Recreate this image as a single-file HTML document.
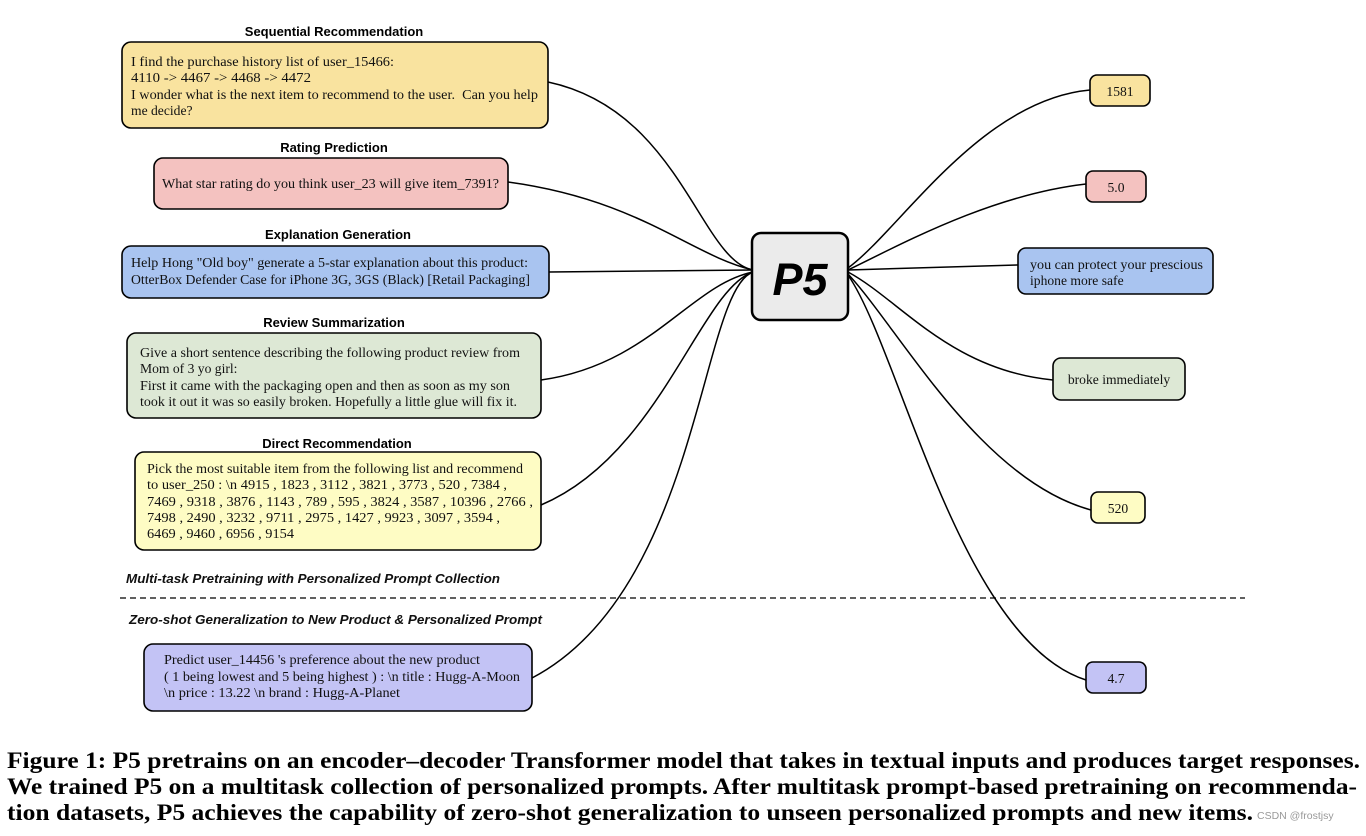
<!DOCTYPE html>
<html><head><meta charset="utf-8"><style>
html,body{margin:0;padding:0;background:#fff;}
svg{display:block;}
.t{font-family:"Liberation Serif",serif;font-size:13.6px;fill:#111;}
.h{font-family:"Liberation Sans",sans-serif;font-size:13px;font-weight:bold;fill:#000;text-anchor:middle;}
.i{font-family:"Liberation Sans",sans-serif;font-size:13px;font-style:italic;font-weight:bold;fill:#111;}
.c{font-family:"Liberation Serif",serif;font-size:23px;font-weight:bold;fill:#000;}
.b{stroke:#000;stroke-width:1.6;}
path{fill:none;stroke:#000;stroke-width:1.5;}
</style></head><body>
<svg width="1366" height="836" viewBox="0 0 1366 836">
<path d="M548,82 C680,110 700,260 753,270"/>
<path d="M508,182 C640,200 690,255 753,270"/>
<path d="M549,272 L753,270"/>
<path d="M541,380 C650,365 690,285 753,272"/>
<path d="M541,505 C660,455 700,290 753,272"/>
<path d="M532,678 C700,590 700,290 753,272"/>
<path d="M1090,90 C980,100 900,230 848,268"/>
<path d="M1086,184 C990,195 900,245 848,270"/>
<path d="M1018,265 L848,270"/>
<path d="M1053,380 C950,370 900,300 848,272"/>
<path d="M1091,510 C980,480 900,330 848,274"/>
<path d="M1086,680 C960,640 900,350 848,275"/>

<text class="h" x="334" y="36">Sequential Recommendation</text>
<text class="h" x="334" y="152">Rating Prediction</text>
<text class="h" x="338" y="239">Explanation Generation</text>
<text class="h" x="334" y="327">Review Summarization</text>
<text class="h" x="337" y="448">Direct Recommendation</text>

<rect class="b" x="122" y="42" width="426" height="86" rx="9" fill="#f9e39f"/>
<text class="t" x="131" y="66" textLength="263" lengthAdjust="spacingAndGlyphs">I find the purchase history list of user_15466:</text>
<text class="t" x="131" y="82" textLength="180" lengthAdjust="spacingAndGlyphs">4110 -&gt; 4467 -&gt; 4468 -&gt; 4472</text>
<text class="t" x="131" y="99" textLength="407" lengthAdjust="spacingAndGlyphs">I wonder what is the next item to recommend to the user.&#160; Can you help</text>
<text class="t" x="131" y="115">me decide?</text>

<rect class="b" x="154" y="158" width="354" height="51" rx="9" fill="#f4c2c0"/>
<text class="t" x="162" y="188" textLength="337" lengthAdjust="spacingAndGlyphs">What star rating do you think user_23 will give item_7391?</text>

<rect class="b" x="122" y="246" width="427" height="52" rx="9" fill="#a9c4f0"/>
<text class="t" x="131" y="267" textLength="397" lengthAdjust="spacingAndGlyphs">Help Hong "Old boy" generate a 5-star explanation about this product:</text>
<text class="t" x="131" y="284" textLength="399" lengthAdjust="spacingAndGlyphs">OtterBox Defender Case for iPhone 3G, 3GS (Black) [Retail Packaging]</text>

<rect class="b" x="127" y="333" width="414" height="85" rx="9" fill="#dde8d5"/>
<text class="t" x="140" y="357" textLength="380" lengthAdjust="spacingAndGlyphs">Give a short sentence describing the following product review from</text>
<text class="t" x="140" y="373">Mom of 3 yo girl:</text>
<text class="t" x="140" y="390" textLength="370" lengthAdjust="spacingAndGlyphs">First it came with the packaging open and then as soon as my son</text>
<text class="t" x="140" y="406" textLength="377" lengthAdjust="spacingAndGlyphs">took it out it was so easily broken. Hopefully a little glue will fix it.</text>

<rect class="b" x="135" y="452" width="406" height="98" rx="9" fill="#fefcc4"/>
<text class="t" x="147" y="473" textLength="376" lengthAdjust="spacingAndGlyphs">Pick the most suitable item from the following list and recommend</text>
<text class="t" x="147" y="489" textLength="360" lengthAdjust="spacingAndGlyphs">to user_250 : \n 4915 , 1823 , 3112 , 3821 , 3773 , 520 , 7384 ,</text>
<text class="t" x="147" y="506" textLength="386" lengthAdjust="spacingAndGlyphs">7469 , 9318 , 3876 , 1143 , 789 , 595 , 3824 , 3587 , 10396 , 2766 ,</text>
<text class="t" x="147" y="522" textLength="353" lengthAdjust="spacingAndGlyphs">7498 , 2490 , 3232 , 9711 , 2975 , 1427 , 9923 , 3097 , 3594 ,</text>
<text class="t" x="147" y="538" textLength="147" lengthAdjust="spacingAndGlyphs">6469 , 9460 , 6956 , 9154</text>

<text class="i" x="126" y="583" textLength="374" lengthAdjust="spacingAndGlyphs">Multi-task Pretraining with Personalized Prompt Collection</text>
<line x1="120" y1="598" x2="1245" y2="598" stroke="#000" stroke-width="1.3" stroke-dasharray="6,4"/>
<text class="i" x="129" y="624" textLength="413" lengthAdjust="spacingAndGlyphs">Zero-shot Generalization to New Product &amp; Personalized Prompt</text>

<rect class="b" x="144" y="644" width="388" height="67" rx="9" fill="#c3c3f5"/>
<text class="t" x="164" y="664" textLength="316" lengthAdjust="spacingAndGlyphs">Predict user_14456 's preference about the new product</text>
<text class="t" x="164" y="681" textLength="356" lengthAdjust="spacingAndGlyphs">( 1 being lowest and 5 being highest ) : \n title : Hugg-A-Moon</text>
<text class="t" x="164" y="697" textLength="236" lengthAdjust="spacingAndGlyphs">\n price : 13.22 \n brand : Hugg-A-Planet</text>

<rect x="752" y="233" width="96" height="87" rx="9" fill="#ebebeb" stroke="#000" stroke-width="2.5"/>
<text x="800" y="295" text-anchor="middle" font-family="Liberation Sans,sans-serif" font-size="45" font-weight="bold" font-style="italic">P5</text>

<rect class="b" x="1090" y="75" width="60" height="31" rx="7" fill="#f9e39f"/>
<text class="t" x="1120" y="96" text-anchor="middle">1581</text>
<rect class="b" x="1086" y="171" width="60" height="31" rx="7" fill="#f4c2c0"/>
<text class="t" x="1116" y="192" text-anchor="middle">5.0</text>
<rect class="b" x="1018" y="248" width="195" height="46" rx="8" fill="#a9c4f0"/>
<text class="t" x="1030" y="269" textLength="173" lengthAdjust="spacingAndGlyphs">you can protect your prescious</text>
<text class="t" x="1030" y="285">iphone more safe</text>
<rect class="b" x="1053" y="358" width="132" height="42" rx="8" fill="#dde8d5"/>
<text class="t" x="1119" y="384" text-anchor="middle">broke immediately</text>
<rect class="b" x="1091" y="492" width="54" height="31" rx="7" fill="#fefcc4"/>
<text class="t" x="1118" y="513" text-anchor="middle">520</text>
<rect class="b" x="1086" y="662" width="60" height="31" rx="7" fill="#c3c3f5"/>
<text class="t" x="1116" y="683" text-anchor="middle">4.7</text>

<text class="c" x="7" y="768" textLength="1353" lengthAdjust="spacingAndGlyphs">Figure 1: P5 pretrains on an encoder–decoder Transformer model that takes in textual inputs and produces target responses.</text>
<text class="c" x="7" y="794" textLength="1350" lengthAdjust="spacingAndGlyphs">We trained P5 on a multitask collection of personalized prompts. After multitask prompt-based pretraining on recommenda-</text>
<text class="c" x="7" y="820" textLength="1246" lengthAdjust="spacingAndGlyphs">tion datasets, P5 achieves the capability of zero-shot generalization to unseen personalized prompts and new items.</text>
<text x="1257" y="819" font-family="Liberation Sans,sans-serif" font-size="10.5" fill="#999">CSDN @frostjsy</text>
</svg>
</body></html>
